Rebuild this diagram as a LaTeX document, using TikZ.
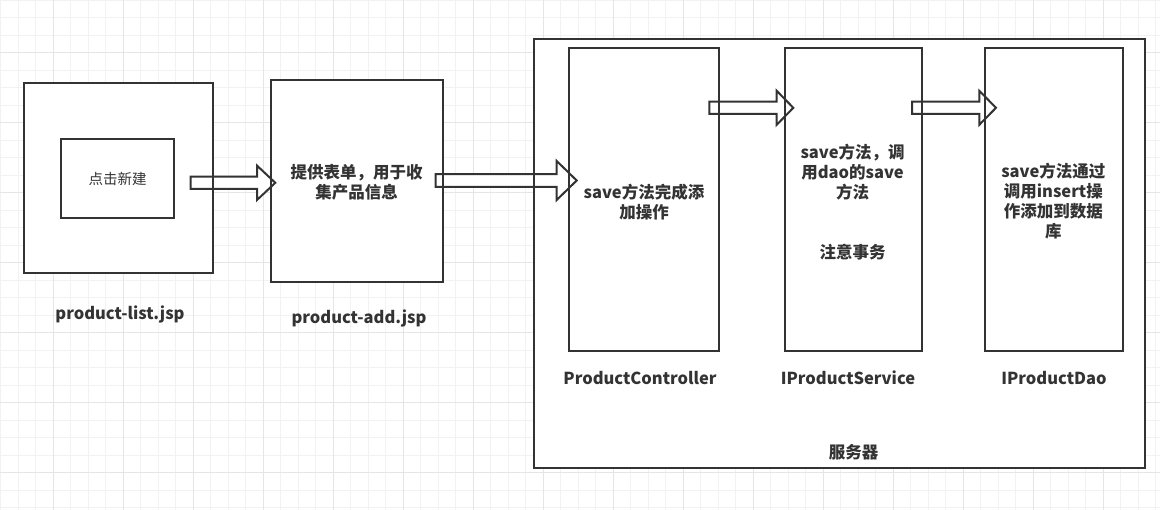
\documentclass[tikz,border=0pt]{standalone}
\usepackage{fontspec}
\newfontfamily\yh{Noto Sans CJK SC}
\usetikzlibrary{calc}
\definecolor{ink}{RGB}{51,51,51}
\definecolor{gridminor}{RGB}{242,242,242}
\definecolor{gridmajor}{RGB}{229,229,229}
\pgfdeclarelayer{bg}\pgfdeclarelayer{mid}\pgfsetlayers{bg,mid,main}
% #1 start coord, #2 tip coord, #3 shaft half width, #4 head half width, #5 head length
\newcommand\blockarrow[5]{%
  \path[arr] let \p1=(#1), \p2=(#2) in
    (\x1,\y1+#3) -- (\x2-#5,\y1+#3) -- (\x2-#5,\y1+#4) -- (\x2,\y1)
    -- (\x2-#5,\y1-#4) -- (\x2-#5,\y1-#3) -- (\x1,\y1-#3) -- cycle;}
\begin{document}
\begin{tikzpicture}[x=1pt,y=-1pt,
  box/.style={draw=ink,line width=2pt,outer sep=0pt,inner sep=0pt},
  txt/.style={font=\yh\bfseries\fontsize{16.5}{20}\selectfont,text=ink,align=center,inner sep=0pt},
  lbl/.style={txt,text height=14.5pt,text depth=2pt},
  arr/.style={draw=ink,fill=white,line width=2pt,line join=miter}]
\useasboundingbox (0,0) rectangle (1160,510);

% boxes
\node[box,minimum width=611pt,minimum height=429pt] (server) at (839.5,253.5) {};
\node[box,minimum width=189pt,minimum height=190pt] (list) at (118.5,178) {};
\node[box,minimum width=113pt,minimum height=79pt,
      font=\yh\fontsize{14.5}{17}\selectfont,text=ink,text height=12.8pt,text depth=1.7pt] (btn) at (117.5,178.5) {点击新建};
\node[box,minimum width=171.5pt,minimum height=202pt] (add) at (356.75,181) {};
\node[box,minimum width=149.5pt,minimum height=303.5pt] (pc) at (643.75,199.75) {};
\node[box,minimum width=137pt,minimum height=303.5pt] (ips) at (853,199.75) {};
\node[box,minimum width=138pt,minimum height=303.5pt] (ipd) at (1053.5,199.75) {};

% texts
\node[txt] (addtxt) at (356.7,182) {提供表单，用于收\\集产品信息};
\node[txt] (pctxt) at (644,201.7) {save方法完成添\\加操作};
\node[txt] (ipstxt) at (852.6,201.7) {save方法，调\\用dao的save\\方法\\[40pt]注意事务};
\node[txt] (ipdtxt) at (1053.3,201.5) {save方法通过\\调用insert操\\作添加到数据\\库};

% labels
\node[lbl] (listlbl) at (120,313.3) {product-list.jsp};
\node[lbl] (addlbl) at (359,317.7) {product-add.jsp};
\node[lbl] (pclbl) at (640,378) {ProductController};
\node[lbl] (ipslbl) at (848,378) {IProductService};
\node[lbl] (ipdlbl) at (1054,378) {IProductDao};
\node[lbl] (srvlbl) at (853.5,452.7) {服务器};

% arrow end points
\coordinate (a1s) at (190.7,182.8); \coordinate (a1e) at (275.3,182.8);
\coordinate (a2s) at (435.7,180.5); \coordinate (a2e) at (576.7,180.5);
\coordinate (a3s) at (709.3,107.8); \coordinate (a3e) at (793.3,107.8);
\coordinate (a4s) at (912,107.8);   \coordinate (a4e) at (996,107.8);

\begin{pgfonlayer}{bg}
  \foreach \xx in {0.5,18,...,1160} \draw[gridminor,line width=1pt] (\xx,0) -- (\xx,510);
  \foreach \yy in {0.5,18,...,510} \draw[gridminor,line width=1pt] (0,\yy) -- (1160,\yy);
  \foreach \xx in {53,123,...,1160} \draw[gridmajor,line width=1pt] (\xx,0) -- (\xx,510);
  \foreach \yy in {53,123,...,510} \draw[gridmajor,line width=1pt] (0,\yy) -- (1160,\yy);
  \foreach \n in {server,list,btn,add,pc,ips,ipd}
    \fill[white] (\n.north west) rectangle (\n.south east);
\end{pgfonlayer}

\begin{pgfonlayer}{mid}
  \blockarrow{a1s}{a1e}{6.2pt}{17.2pt}{18.3pt}
  \blockarrow{a2s}{a2e}{6.3pt}{19.5pt}{20pt}
  \blockarrow{a3s}{a3e}{6.2pt}{17pt}{16.6pt}
  \blockarrow{a4s}{a4e}{6.2pt}{17pt}{16.7pt}
\end{pgfonlayer}
\end{tikzpicture}
\end{document}
